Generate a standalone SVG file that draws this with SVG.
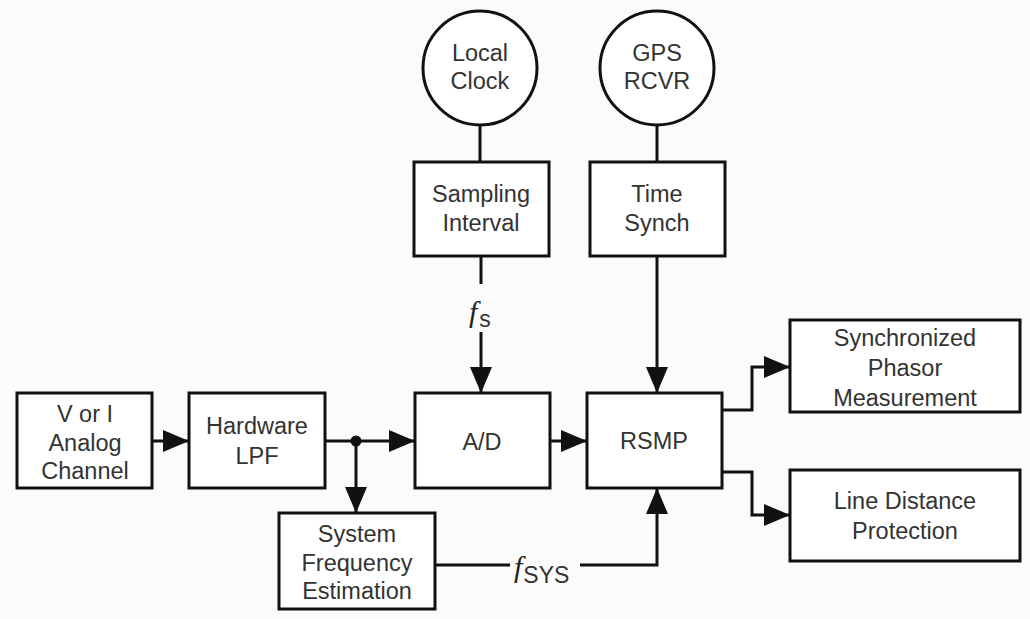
<svg xmlns="http://www.w3.org/2000/svg" width="1030" height="619" viewBox="0 0 1030 619">
  <style>
    .box { fill: #ffffff; stroke: #111111; stroke-width: 3; }
    .lbl { font-family: "Liberation Sans", Arial, sans-serif; font-size: 23.5px; fill: #333333; text-anchor: middle; }
    .wire { fill: none; stroke: #111111; stroke-width: 3; }
    .sym { font-family: "Liberation Serif", serif; font-style: italic; font-size: 30px; fill: #222222; }
    .sub { font-family: "Liberation Sans", Arial, sans-serif; font-size: 23px; fill: #333333; }
  </style>
  <defs>
    <marker id="arrow" markerUnits="userSpaceOnUse" markerWidth="26" markerHeight="22" refX="26" refY="11" orient="auto">
      <path d="M0,0 L26,11 L0,22 z" fill="#111111"/>
    </marker>
  </defs>
  <rect width="1030" height="619" fill="#fbfbfb"/>

  <g id="local-clock">
    <circle class="box" cx="480" cy="68" r="57"/>
    <text class="lbl" x="480" y="61">Local</text>
    <text class="lbl" x="480" y="89">Clock</text>
  </g>
  <g id="gps-rcvr">
    <circle class="box" cx="657" cy="68" r="57"/>
    <text class="lbl" x="657" y="61">GPS</text>
    <text class="lbl" x="657" y="89">RCVR</text>
  </g>
  <g id="sampling-interval">
    <rect class="box" x="414" y="162" width="135" height="94"/>
    <text class="lbl" x="481" y="202">Sampling</text>
    <text class="lbl" x="481" y="231">Interval</text>
  </g>
  <g id="time-synch">
    <rect class="box" x="590" y="162" width="135" height="94"/>
    <text class="lbl" x="657" y="202">Time</text>
    <text class="lbl" x="657" y="231">Synch</text>
  </g>
  <g id="analog-channel">
    <rect class="box" x="17" y="393" width="135" height="95"/>
    <text class="lbl" x="85" y="422">V or I</text>
    <text class="lbl" x="85" y="451">Analog</text>
    <text class="lbl" x="85" y="479">Channel</text>
  </g>
  <g id="hardware-lpf">
    <rect class="box" x="189" y="393" width="136" height="95"/>
    <text class="lbl" x="257" y="434">Hardware</text>
    <text class="lbl" x="257" y="464">LPF</text>
  </g>
  <g id="ad">
    <rect class="box" x="415" y="393" width="135" height="95"/>
    <text class="lbl" x="482" y="450">A/D</text>
  </g>
  <g id="rsmp">
    <rect class="box" x="587" y="393" width="135" height="95"/>
    <text class="lbl" x="654" y="449">RSMP</text>
  </g>
  <g id="system-frequency-estimation">
    <rect class="box" x="279" y="513" width="156" height="96"/>
    <text class="lbl" x="357" y="542">System</text>
    <text class="lbl" x="357" y="571">Frequency</text>
    <text class="lbl" x="357" y="599">Estimation</text>
  </g>
  <g id="synchronized-phasor-measurement">
    <rect class="box" x="790" y="320" width="230" height="92"/>
    <text class="lbl" x="905" y="346">Synchronized</text>
    <text class="lbl" x="905" y="376">Phasor</text>
    <text class="lbl" x="905" y="406">Measurement</text>
  </g>
  <g id="line-distance-protection">
    <rect class="box" x="790" y="470" width="230" height="91"/>
    <text class="lbl" x="905" y="509">Line Distance</text>
    <text class="lbl" x="905" y="539">Protection</text>
  </g>

  <g id="connectors">
    <line class="wire" x1="152" y1="441" x2="189" y2="441" marker-end="url(#arrow)"/>
    <line class="wire" x1="325" y1="441" x2="415" y2="441" marker-end="url(#arrow)"/>
    <circle cx="356" cy="441" r="5.5" fill="#111111"/>
    <line class="wire" x1="356" y1="441" x2="356" y2="513" marker-end="url(#arrow)"/>
    <line class="wire" x1="550" y1="441" x2="587" y2="441" marker-end="url(#arrow)"/>
    <line class="wire" x1="480" y1="125" x2="480" y2="162"/>
    <line class="wire" x1="657" y1="125" x2="657" y2="162"/>
    <line class="wire" x1="481" y1="256" x2="481" y2="284"/>
    <line class="wire" x1="481" y1="332" x2="481" y2="393" marker-end="url(#arrow)"/>
    <line class="wire" x1="657" y1="256" x2="657" y2="393" marker-end="url(#arrow)"/>
    <line class="wire" x1="435" y1="565" x2="510" y2="565"/>
    <polyline class="wire" points="580,565 657,565 657,488" marker-end="url(#arrow)"/>
    <polyline class="wire" points="722,410 752,410 752,367 790,367" marker-end="url(#arrow)"/>
    <polyline class="wire" points="722,472 752,472 752,515 790,515" marker-end="url(#arrow)"/>
  </g>

  <g id="labels">
    <text x="469" y="322"><tspan class="sym">f</tspan><tspan class="sub" dx="2" dy="5">s</tspan></text>
    <text x="514" y="577"><tspan class="sym">f</tspan><tspan class="sub" dx="1" dy="6">SYS</tspan></text>
  </g>
</svg>
